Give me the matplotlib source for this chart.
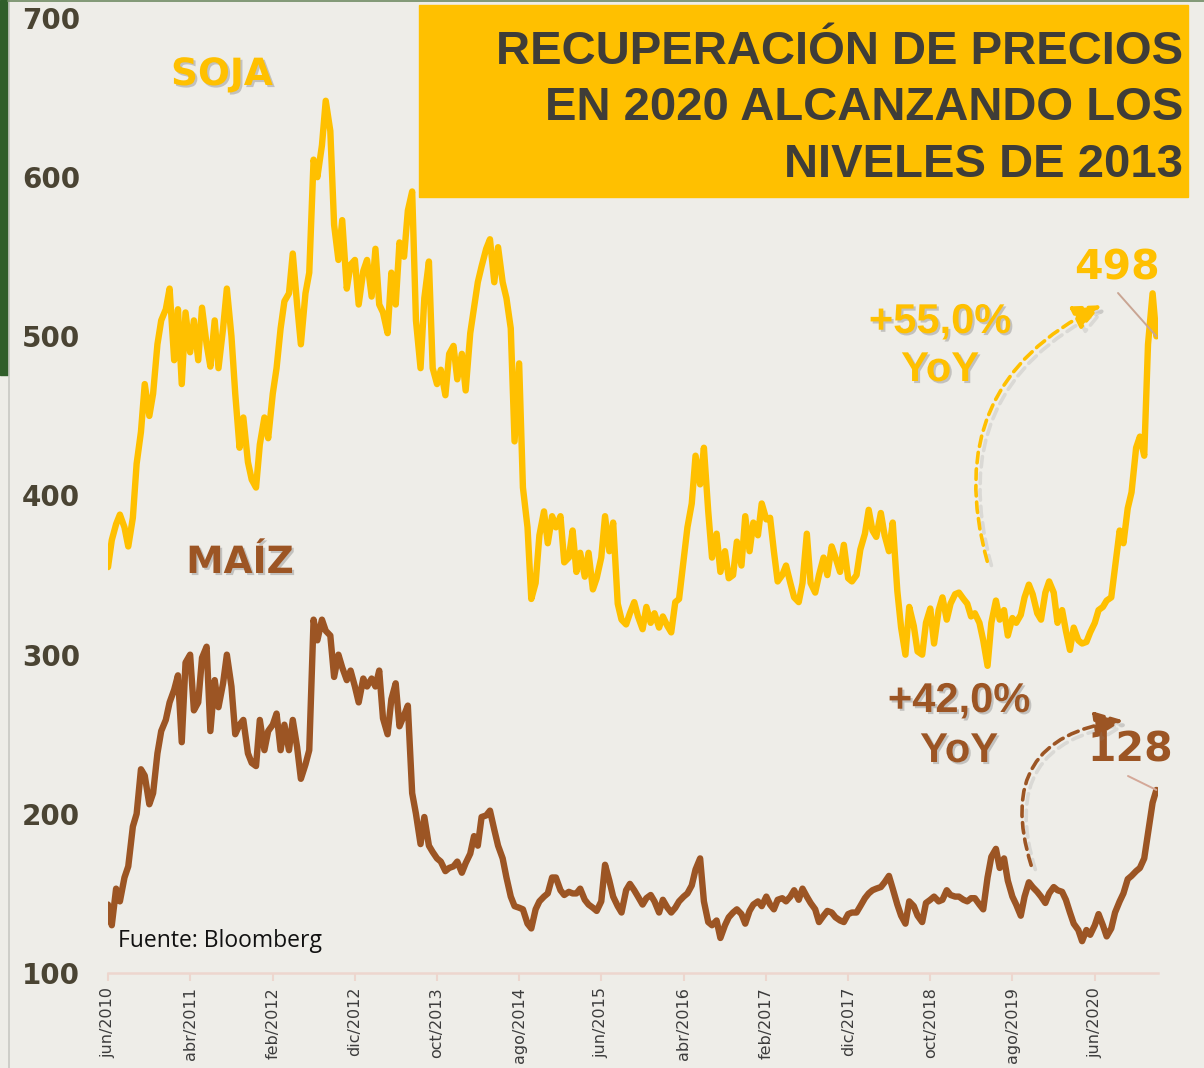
import pandas as pd
import matplotlib
matplotlib.use("Agg")
from matplotlib import pyplot as plt
import matplotlib.patheffects as pe
from matplotlib.patches import Rectangle, FancyArrowPatch
from matplotlib.lines import Line2D

# semi-monthly readings, jun/2010 .. jan/2021
dates = pd.date_range("2010-06-01", "2021-01-15", freq="SMS")

soja = [
    355, 372, 382, 388, 380, 368, 386, 420, 440, 470, 450, 464, 495, 510, 517, 530,
    485, 517, 470, 515, 490, 510, 485, 518, 495, 481, 510, 480, 505, 530, 500, 464,
    430, 449, 421, 410, 405, 432, 449, 436, 464, 480, 505, 522, 527, 552, 520, 495,
    527, 540, 611, 600, 620, 648, 629, 570, 548, 573, 530, 545, 548, 520, 541, 548,
    525, 555, 520, 515, 502, 540, 520, 559, 550, 579, 591, 510, 480, 524, 547, 480,
    470, 479, 463, 489, 494, 473, 489, 466, 502, 518, 534, 544, 555, 561, 534, 556,
    534, 524, 505, 434, 483, 405, 380, 335, 345, 375, 390, 370, 387, 380, 387, 358,
    361, 378, 352, 364, 349, 364, 341, 348, 361, 387, 365, 383, 332, 322, 319, 326,
    333, 324, 316, 330, 320, 326, 317, 324, 318, 314, 333, 335, 360, 380, 395, 425,
    407, 430, 390, 361, 376, 352, 365, 348, 350, 371, 356, 387, 365, 383, 375, 395,
    385, 386, 365, 346, 350, 356, 345, 336, 333, 345, 376, 345, 339, 350, 361, 350,
    368, 361, 352, 369, 348, 346, 350, 366, 376, 391, 378, 374, 389, 375, 365, 383,
    340, 317, 300, 330, 318, 302, 300, 320, 329, 307, 328, 336, 322, 332, 338, 339,
    335, 332, 324, 326, 320, 309, 293, 320, 334, 322, 328, 312, 323, 320, 325, 336,
    344, 338, 326, 322, 339, 346, 339, 320, 328, 315, 303, 317, 309, 307, 308, 314,
    320, 328, 330, 334, 336, 355, 378, 370, 392, 402, 430, 437, 425, 495, 527, 500,
]

maiz = [
    143, 130, 153, 145, 160, 167, 192, 200, 228, 224, 206, 213, 238, 252, 259, 270,
    278, 287, 245, 295, 300, 265, 270, 298, 305, 252, 284, 267, 282, 300, 280, 250,
    256, 259, 238, 232, 230, 259, 240, 252, 256, 263, 240, 256, 240, 259, 242, 222,
    231, 240, 322, 309, 322, 315, 312, 286, 300, 292, 284, 290, 280, 270, 285, 280,
    285, 280, 290, 260, 250, 272, 282, 255, 262, 268, 213, 200, 181, 198, 180, 176,
    172, 170, 164, 166, 167, 170, 163, 169, 175, 186, 180, 198, 199, 202, 190, 180,
    172, 160, 148, 142, 141, 140, 131, 128, 140, 145, 148, 150, 160, 160, 152, 149,
    151, 150, 150, 153, 146, 143, 141, 139, 145, 168, 158, 148, 142, 138, 152, 156,
    152, 148, 143, 147, 149, 145, 138, 146, 141, 138, 141, 145, 148, 150, 155, 165,
    172, 145, 132, 130, 133, 122, 130, 135, 138, 140, 137, 131, 139, 143, 145, 142,
    148, 143, 140, 146, 147, 145, 148, 152, 146, 153, 148, 144, 140, 132, 136, 139,
    138, 135, 133, 132, 137, 138, 138, 142, 147, 150, 152, 153, 154, 157, 161, 153,
    143, 136, 131, 145, 142, 136, 132, 144, 146, 148, 145, 146, 152, 149, 148, 148,
    146, 145, 147, 147, 143, 140, 160, 173, 178, 166, 172, 158, 148, 143, 136, 148,
    157, 154, 151, 148, 144, 150, 154, 152, 151, 146, 138, 131, 127, 120, 127, 124,
    130, 137, 130, 123, 128, 138, 145, 150, 159, 161, 164, 166, 172, 188, 207, 215,
]

tick_dates = pd.date_range("2010-06-01", periods=13, freq="10MS")
tick_labels = ["jun/2010", "abr/2011", "feb/2012", "dic/2012", "oct/2013", "ago/2014",
               "jun/2015", "abr/2016", "feb/2017", "dic/2017", "oct/2018", "ago/2019",
               "jun/2020"]
y_ticks = [100, 200, 300, 400, 500, 600, 700]

title_lines = ["RECUPERACIÓN DE PRECIOS", "EN 2020 ALCANZANDO LOS", "NIVELES DE 2013"]
soja_last_label = "498"
maiz_last_label = "128"
soja_yoy = "+55,0%"
maiz_yoy = "+42,0%"

BG = "#EEEDE8"
SOJA_C = "#FFC000"
MAIZ_C = "#9C5524"
W, H = 1204, 1068


def fx(px):
    return px / W


def fy(py):
    return 1 - py / H


shadow = [pe.withSimplePatchShadow(offset=(1.5, -1.5), shadow_rgbFace="#707070", alpha=0.35)]

fig = plt.figure(figsize=(W / 100, H / 100), dpi=100, facecolor=BG)

# frame bits: green stripe, thin grey edge line, top line
fig.patches.append(Rectangle((0, fy(375)), fx(8), 375 / H, transform=fig.transFigure,
                             color="#305E2A", zorder=0))
fig.add_artist(Line2D([fx(8.5), fx(8.5)], [0, 1], color="#C8C8C3", lw=1.2))
fig.add_artist(Line2D([fx(8), 1], [fy(1), fy(1)], color="#6E8A62", lw=1.2))

ax = fig.add_axes([fx(108), fy(973), fx(1158 - 108), (973 - 18) / H])
ax.set_facecolor(BG)
ax.patch.set_alpha(0)

ax.plot(dates, maiz, color=MAIZ_C, lw=4.6, solid_joinstyle="round", solid_capstyle="round", zorder=3)
ax.plot(dates, soja, color=SOJA_C, lw=4.6, solid_joinstyle="round", solid_capstyle="round", zorder=3)

ax.set_ylim(100, 700)
ax.set_xlim(pd.Timestamp("2010-06-01"), pd.Timestamp("2021-01-21"))

for s in ["top", "right", "left"]:
    ax.spines[s].set_visible(False)
ax.spines["bottom"].set_color("#EDD6CE")
ax.spines["bottom"].set_linewidth(1.8)

ax.set_yticks(y_ticks)
ax.set_yticklabels([str(v) for v in y_ticks], fontsize=20, fontweight="bold", color="#4A4433")
ax.tick_params(axis="y", length=0, pad=20)

ax.set_xticks(tick_dates)
ax.set_xticklabels(tick_labels, rotation=90, fontsize=11.5, color="#3C3C3C")
ax.tick_params(axis="x", length=6, width=1.5, color="#EDD6CE", pad=4)

# title box
fig.patches.append(Rectangle((fx(419), fy(197)), fx(1188 - 419), (197 - 5) / H,
                             transform=fig.transFigure, color="#FFC000", zorder=1))
for line, base in zip(title_lines, [64, 120, 177]):
    fig.text(fx(1183), fy(base), line, ha="right", va="baseline", fontsize=34,
             fontweight="bold", color="#3F3D38", family="Liberation Sans", zorder=2)

# series names
fig.text(fx(222), fy(85), "SOJA", ha="center", va="baseline", fontsize=27,
         fontweight="bold", color=SOJA_C, path_effects=shadow)
fig.text(fx(240), fy(573), "MAÍZ", ha="center", va="baseline", fontsize=27,
         fontweight="bold", color=MAIZ_C, path_effects=shadow)

# yoy labels
for txt, cx, b1, b2, col in [(soja_yoy, 940, 333, 381, SOJA_C), (maiz_yoy, 959, 712, 762, MAIZ_C)]:
    fig.text(fx(cx), fy(b1), txt, ha="center", va="baseline", fontsize=30, fontweight="bold",
             color=col, family="Liberation Sans", path_effects=shadow)
    fig.text(fx(cx), fy(b2), "YoY", ha="center", va="baseline", fontsize=30, fontweight="bold",
             color=col, family="Liberation Sans", path_effects=shadow)

# last value labels with leader lines
fig.text(fx(1117), fy(280), soja_last_label, ha="center", va="baseline", fontsize=29.5,
         fontweight="bold", color=SOJA_C)
fig.text(fx(1130), fy(762), maiz_last_label, ha="center", va="baseline", fontsize=29.5,
         fontweight="bold", color=MAIZ_C)
ax.annotate("", xy=(dates[-1], soja[-1]), xytext=(fx(1118), fy(293)), textcoords="figure fraction",
            arrowprops=dict(arrowstyle="-", color="#C9A593", lw=1.4, shrinkA=0, shrinkB=0), zorder=4)
ax.annotate("", xy=(dates[-1], maiz[-1]), xytext=(fx(1128), fy(776)), textcoords="figure fraction",
            arrowprops=dict(arrowstyle="-", color="#D4A898", lw=1.4, shrinkA=0, shrinkB=0), zorder=4)

# curved dashed arrows
arrow_fx = [pe.SimpleLineShadow(offset=(3, -3), shadow_color="#8a8a8a", alpha=0.2), pe.Normal()]
for (x0, y0), (x1, y1), rad, col in [((988, 564), (1104, 304), -0.42, SOJA_C),
                                      ((1032, 868), (1126, 720), -0.6, MAIZ_C)]:
    arr = FancyArrowPatch((fx(x0), fy(y0)), (fx(x1), fy(y1)), transform=fig.transFigure,
                          connectionstyle=f"arc3,rad={rad}",
                          arrowstyle="-|>,head_length=1.0,head_width=0.45", mutation_scale=17,
                          color=col, lw=2.6, linestyle=(0, (2.9, 1.7)), path_effects=arrow_fx,
                          zorder=5)
    fig.patches.append(arr)

fig.text(fx(118), fy(947), "Fuente: Bloomberg", ha="left", va="baseline", fontsize=16.5,
         color="#111111", family="Open Sans")

fig.savefig("out.png", dpi=100, facecolor=BG)
